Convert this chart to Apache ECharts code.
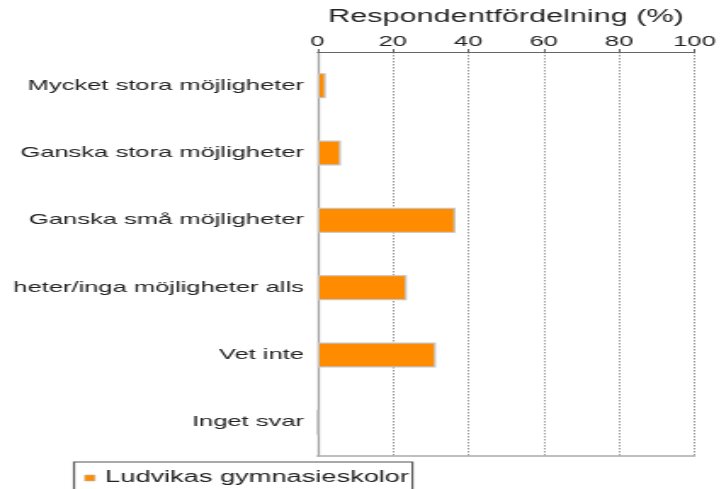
<!DOCTYPE html>
<html>
<head>
<meta charset="utf-8">
<script src="https://cdn.jsdelivr.net/npm/echarts@6/dist/echarts.min.js"></script>
<style>
	html, body { margin: 0; padding: 0; background: #fff; overflow: hidden; }
	#wrap { width: 720px; height: 489px; overflow: hidden; }
	/* the reference is drawn horizontally stretched, so the chart is laid out narrow and widened */
	#eBar { height: 489px; transform-origin: 0 0; }
</style>
</head>
<body>
<div id="wrap"><div id="eBar"></div></div>
<script>
	var categories = ['Mycket stora möjligheter', 'Ganska stora möjligheter', 'Ganska små möjligheter', 'heter/inga möjligheter alls', 'Vet inte', 'Inget svar'];
	var values = [2.2, 6.2, 36.6, 23.7, 31.4, 0];
	var seriesName = 'Ludvikas gymnasieskolor';
	var axisTitle = 'Respondentfördelning (%)';
	var xTicks = [0, 20, 40, 60, 80, 100];

	var SX = 1.7;
	var W = 720 / SX;
	var el = document.getElementById('eBar');
	el.style.width = W + 'px';
	el.style.transform = 'scaleX(' + SX + ')';

	var font = "'Liberation Sans', Arial, sans-serif";
	var chart = echarts.init(el, null, { renderer: 'canvas' });

	var option = {
		animation: false,
		grid: {
			left: 317.5 / SX,
			right: W - 697.5 / SX,
			top: 52,
			bottom: 489 - 456,
			containLabel: false
		},
		legend: {
			data: [seriesName],
			left: 74 / SX,
			top: 462,
			orient: 'horizontal',
			itemWidth: 6,
			itemHeight: 6,
			itemGap: 4,
			padding: [8, 2, 30, 6],
			borderColor: '#555',
			borderWidth: 1.2,
			icon: 'rect',
			itemStyle: { borderColor: '#bbb', borderWidth: 0.6 },
			textStyle: { fontFamily: font, fontSize: 16, color: '#222', padding: [0, 0, 0, 1] }
		},
		xAxis: [{
			type: 'value',
			position: 'top',
			min: xTicks[0],
			max: xTicks[xTicks.length - 1],
			interval: 20,
			name: axisTitle,
			nameLocation: 'middle',
			nameGap: 35,
			nameTextStyle: { fontFamily: font, fontSize: 18, color: '#222', verticalAlign: 'middle' },
			axisLine: { show: true, lineStyle: { color: '#666', width: 1 } },
			axisTick: { show: true, length: 3, lineStyle: { color: '#666' } },
			axisLabel: { fontFamily: font, fontSize: 15, color: '#222', margin: 3 },
			splitLine: { show: true, lineStyle: { color: '#999', width: 1, type: [1.5, 1.5] } }
		}, {
			type: 'value',
			position: 'bottom',
			min: 0,
			max: 100,
			axisLine: { show: true, onZero: false, lineStyle: { color: '#aaa', width: 1.5 } },
			axisTick: { show: false },
			axisLabel: { show: false },
			splitLine: { show: false }
		}],
		yAxis: {
			type: 'category',
			inverse: true,
			data: categories,
			axisLine: { show: true, lineStyle: { color: '#a0a0a0', width: 1.3 } },
			axisTick: { show: false },
			axisLabel: { fontFamily: font, fontSize: 15, color: '#222', margin: 8 }
		},
		series: [{
			name: seriesName,
			type: 'bar',
			xAxisIndex: 0,
			data: values,
			barWidth: 25,
			itemStyle: {
				color: '#ff8c00',
				borderColor: '#c4c4c4',
				borderWidth: 1.2
			}
		}]
	};
	chart.setOption(option);
</script>
</body>
</html>
